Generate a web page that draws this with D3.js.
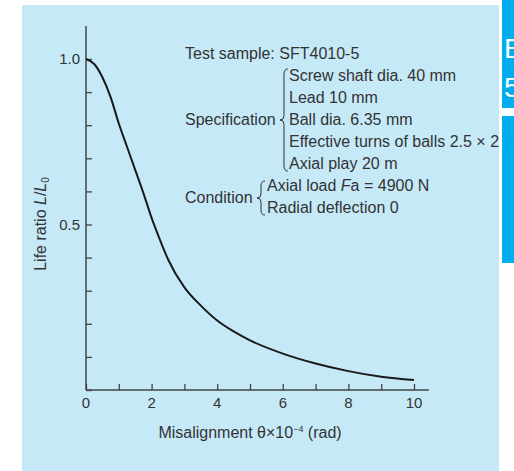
<!DOCTYPE html>
<html lang="en">
<head>
<meta charset="UTF-8">
<script src="https://d3js.org/d3.v7.min.js"></script>
<title>Life ratio vs misalignment</title>
<style>
  body { margin: 0; background: #fff; }
  text { font-family: "Liberation Sans", Arial, sans-serif; fill: #333; }
</style>
</head>
<body>
<script>
// curve
var theta = [0, 0.25, 0.5, 0.75, 1, 1.25, 1.5, 1.75, 2, 2.25, 2.5, 3, 3.5, 4, 4.5, 5, 6, 7, 8, 9, 10];
var lifeRatio = [1.0, 0.985, 0.945, 0.885, 0.805, 0.735, 0.665, 0.595, 0.52, 0.455, 0.395, 0.31, 0.255, 0.21, 0.177, 0.15, 0.11, 0.08, 0.057, 0.04, 0.03];

var xTickLabels = [0, 2, 4, 6, 8, 10];
var yTickLabels = [0.5, 1.0];

var specLines = ["Screw shaft dia. 40 mm", "Lead 10 mm", "Ball dia. 6.35 mm",
                 "Effective turns of balls 2.5 \u00d7 2", "Axial play 20 m"];

var width = 514, height = 471;

var svg = d3.select('body').append('svg')
    .attr('width', width)
    .attr('height', height);

// panel + side tabs
svg.append('rect').attr('x', 22).attr('y', 5).attr('width', 477).attr('height', 466).attr('fill', '#c6e9f8');
svg.append('rect').attr('x', 502).attr('y', 0).attr('width', 12).attr('height', 108).attr('fill', '#00aeef');
svg.append('rect').attr('x', 502).attr('y', 116).attr('width', 12).attr('height', 147).attr('fill', '#00aeef');
svg.append('text').attr('x', 504).attr('y', 58).attr('font-size', 28).style('fill', '#fff').text('E');
svg.append('text').attr('x', 504).attr('y', 97).attr('font-size', 28).style('fill', '#fff').text('5');

var x = d3.scaleLinear().domain([0, 10]).range([86, 414]);
var y = d3.scaleLinear().domain([0, 1]).range([390, 59]);

var axisColor = '#444';

// x axis (ticks point inward)
var gx = svg.append('g').attr('transform', 'translate(0,390)')
    .call(d3.axisTop(x).tickValues(d3.range(0, 11, 1)).tickSize(6).tickFormat(''));
gx.select('.domain').remove();
gx.selectAll('line').attr('stroke', axisColor).attr('stroke-width', 1.3);
svg.append('line').attr('x1', 86).attr('x2', 429).attr('y1', 390).attr('y2', 390)
    .attr('stroke', axisColor).attr('stroke-width', 1.5);
svg.selectAll('.xl').data(xTickLabels).enter().append('text')
    .attr('x', function(d){ return x(d); })
    .attr('y', 408)
    .attr('text-anchor', 'middle')
    .attr('font-size', 15)
    .text(function(d){ return d; });

// y axis
var gy = svg.append('g').attr('transform', 'translate(86,0)')
    .call(d3.axisRight(y).tickValues(d3.range(0, 11, 1).map(function(i){ return i / 10; })).tickSize(6).tickFormat(''));
gy.select('.domain').remove();
gy.selectAll('line').attr('stroke', axisColor).attr('stroke-width', 1.3);
svg.append('line').attr('x1', 86).attr('x2', 86).attr('y1', 26).attr('y2', 390)
    .attr('stroke', axisColor).attr('stroke-width', 1.5);
svg.selectAll('.yl').data(yTickLabels).enter().append('text')
    .attr('x', 80)
    .attr('y', function(d){ return y(d) + 5; })
    .attr('text-anchor', 'end')
    .attr('font-size', 15)
    .text(function(d){ return d.toFixed(1); });

// axis titles
var yt = svg.append('text')
    .attr('transform', 'translate(46,224) rotate(-90)')
    .attr('text-anchor', 'middle')
    .attr('font-size', 16);
yt.append('tspan').text('Life ratio ');
yt.append('tspan').attr('font-style', 'italic').text('L');
yt.append('tspan').text('/');
yt.append('tspan').attr('font-style', 'italic').text('L');
yt.append('tspan').attr('font-size', 10).attr('dy', 3).text('0');

var xt = svg.append('text')
    .attr('x', 250).attr('y', 438)
    .attr('text-anchor', 'middle')
    .attr('font-size', 16);
xt.append('tspan').text('Misalignment \u03b8\u00d710');
xt.append('tspan').attr('font-size', 9).attr('dy', -6).text('\u22124');
xt.append('tspan').attr('dy', 6).text(' (rad)');

// curve
var line = d3.line()
    .x(function(d){ return x(d[0]); })
    .y(function(d){ return y(d[1]); })
    .curve(d3.curveMonotoneX);
svg.append('path')
    .datum(d3.zip(theta, lifeRatio))
    .attr('d', line)
    .attr('fill', 'none')
    .attr('stroke', '#1a1a1a')
    .attr('stroke-width', 2);

// annotation
svg.append('text').attr('x', 185).attr('y', 59).attr('font-size', 16).text('Test sample: SFT4010-5');

function brace(xr, top, bot) {
  var mid = (top + bot) / 2, w = 4;
  return 'M' + (xr + w) + ',' + top +
    ' Q' + xr + ',' + top + ' ' + xr + ',' + (top + 5) +
    ' L' + xr + ',' + (mid - 4) +
    ' Q' + xr + ',' + mid + ' ' + (xr - w) + ',' + mid +
    ' Q' + xr + ',' + mid + ' ' + xr + ',' + (mid + 4) +
    ' L' + xr + ',' + (bot - 5) +
    ' Q' + xr + ',' + bot + ' ' + (xr + w) + ',' + bot;
}

svg.append('text').attr('x', 185).attr('y', 125).attr('font-size', 16).text('Specification');
svg.append('path').attr('d', brace(284, 69, 171)).attr('fill', 'none').attr('stroke', '#333').attr('stroke-width', 1);
svg.selectAll('.spec').data(specLines).enter().append('text')
    .attr('x', 289)
    .attr('y', function(d, i){ return 81 + i * 22; })
    .attr('font-size', 16)
    .text(function(d){ return d; });

svg.append('text').attr('x', 185).attr('y', 203).attr('font-size', 16).text('Condition');
svg.append('path').attr('d', brace(261, 181, 215)).attr('fill', 'none').attr('stroke', '#333').attr('stroke-width', 1);
var c1 = svg.append('text').attr('x', 267).attr('y', 191).attr('font-size', 16);
c1.append('tspan').text('Axial load ');
c1.append('tspan').attr('font-style', 'italic').text('F');
c1.append('tspan').text('a = 4900 N');
svg.append('text').attr('x', 267).attr('y', 213).attr('font-size', 16).text('Radial deflection 0');
</script>
</body>
</html>
